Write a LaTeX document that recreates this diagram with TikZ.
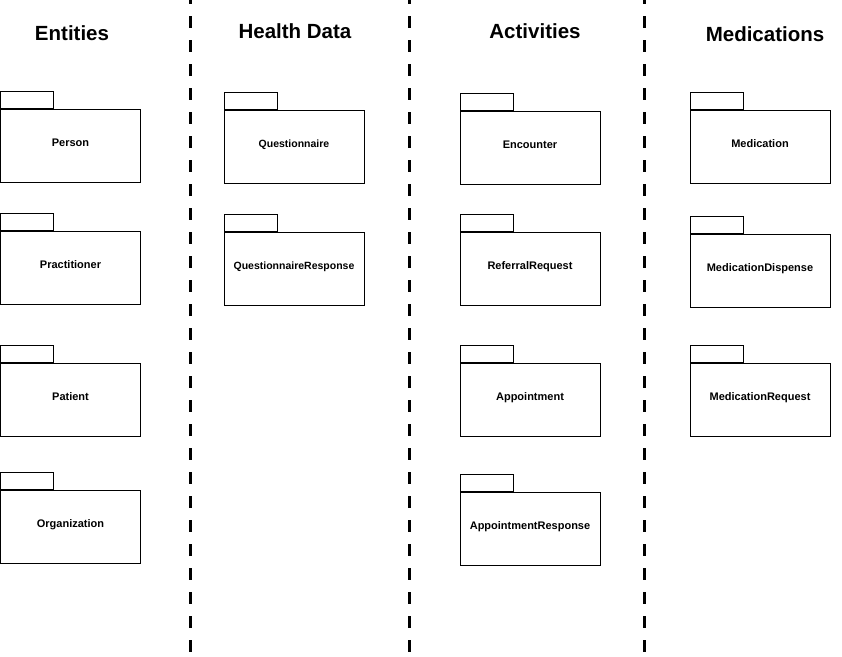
\documentclass[tikz,border=0pt]{standalone}
\usepackage{fontspec}
\setmainfont{Liberation Sans}
\usetikzlibrary{positioning}

\begin{document}
\begin{tikzpicture}[x=1pt, y=-1pt]
        \tikzstyle{coltitle} = [font=\fontsize{20.5}{24}\selectfont\bfseries, inner sep=0pt]
        \tikzstyle{pkg} = [rectangle, draw=black, line width=1pt, fill=white, minimum width=140pt, minimum height=73pt, inner sep=0pt, text height=8pt, text depth=7pt, font=\fontsize{11}{13}\selectfont\bfseries]
        \tikzstyle{pkgtab} = [rectangle, draw=black, line width=1pt, fill=white, minimum width=53pt, minimum height=17pt, inner sep=0pt]
        \tikzstyle{separator} = [line width=3pt, dash pattern=on 12pt off 12pt]

        \useasboundingbox (0,0) rectangle (842,656);

        % Separators
        \draw [separator] (190,-8) -- (190,662);
        \draw [separator] (409,-8) -- (409,662);
        \draw [separator] (644,-8) -- (644,662);

        % Titles
        \node (entities) [coltitle] at (72,33) {Entities};
        \node (healthdata) [coltitle] at (295,31.5) {Health Data};
        \node (activities) [coltitle] at (535,31.5) {Activities};
        \node (medications) [coltitle] at (765,34) {Medications};

        % Entities
        \node (person) [pkg] at (70.5,145.5) {Person};
        \node (persontab) [pkgtab, above right=0pt and 0pt of person.north west] {};
        \node (practitioner) [pkg] at (70.5,267.5) {Practitioner};
        \node (practitionertab) [pkgtab, above right=0pt and 0pt of practitioner.north west] {};
        \node (patient) [pkg] at (70.5,399.5) {Patient};
        \node (patienttab) [pkgtab, above right=0pt and 0pt of patient.north west] {};
        \node (organization) [pkg] at (70.5,527) {Organization};
        \node (organizationtab) [pkgtab, above right=0pt and 0pt of organization.north west] {};

        % Health Data
        \node (questionnaire) [pkg, font=\fontsize{10.5}{12}\selectfont\bfseries] at (294,146.5) {Questionnaire};
        \node (questionnairetab) [pkgtab, above right=0pt and 0pt of questionnaire.north west] {};
        \node (qresponse) [pkg, font=\fontsize{10.5}{12}\selectfont\bfseries] at (294,268.5) {QuestionnaireResponse};
        \node (qresponsetab) [pkgtab, above right=0pt and 0pt of qresponse.north west] {};

        % Activities
        \node (encounter) [pkg] at (530,147.5) {Encounter};
        \node (encountertab) [pkgtab, above right=0pt and 0pt of encounter.north west] {};
        \node (referral) [pkg] at (530,268.5) {ReferralRequest};
        \node (referraltab) [pkgtab, above right=0pt and 0pt of referral.north west] {};
        \node (appointment) [pkg] at (530,400) {Appointment};
        \node (appointmenttab) [pkgtab, above right=0pt and 0pt of appointment.north west] {};
        \node (aresponse) [pkg] at (530,528.5) {AppointmentResponse};
        \node (aresponsetab) [pkgtab, above right=0pt and 0pt of aresponse.north west] {};

        % Medications
        \node (medication) [pkg] at (760,146.5) {Medication};
        \node (medicationtab) [pkgtab, above right=0pt and 0pt of medication.north west] {};
        \node (dispense) [pkg] at (760,270.5) {MedicationDispense};
        \node (dispensetab) [pkgtab, above right=0pt and 0pt of dispense.north west] {};
        \node (request) [pkg] at (760,399.5) {MedicationRequest};
        \node (requesttab) [pkgtab, above right=0pt and 0pt of request.north west] {};
    \end{tikzpicture}
\end{document}
